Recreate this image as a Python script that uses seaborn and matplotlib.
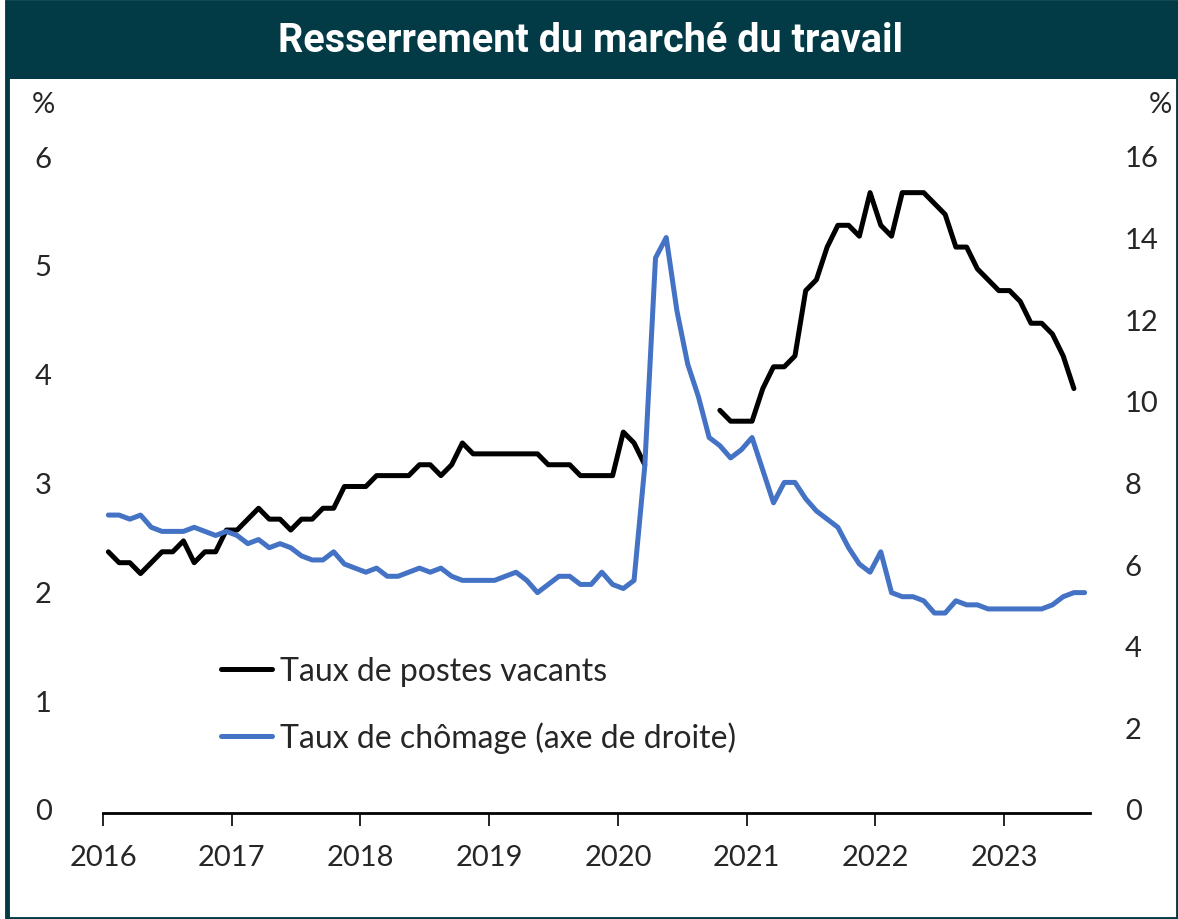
import numpy as np
import pandas as pd
import seaborn as sns
import matplotlib.pyplot as plt
import matplotlib.transforms as mtransforms
from matplotlib.patches import Rectangle
from matplotlib.lines import Line2D

# Données mensuelles, janv. 2016 à août 2023
annees = ['2016', '2017', '2018', '2019', '2020', '2021', '2022', '2023']

vacants = [2.4, 2.3, 2.3, 2.2, 2.3, 2.4, 2.4, 2.5, 2.3, 2.4, 2.4, 2.6,
           2.6, 2.7, 2.8, 2.7, 2.7, 2.6, 2.7, 2.7, 2.8, 2.8, 3.0, 3.0,
           3.0, 3.1, 3.1, 3.1, 3.1, 3.2, 3.2, 3.1, 3.2, 3.4, 3.3, 3.3,
           3.3, 3.3, 3.3, 3.3, 3.3, 3.2, 3.2, 3.2, 3.1, 3.1, 3.1, 3.1,
           3.5, 3.4, 3.2, np.nan, np.nan, np.nan, np.nan, np.nan, np.nan, 3.7, 3.6, 3.6,
           3.6, 3.9, 4.1, 4.1, 4.2, 4.8, 4.9, 5.2, 5.4, 5.4, 5.3, 5.7,
           5.4, 5.3, 5.7, 5.7, 5.7, 5.6, 5.5, 5.2, 5.2, 5.0, 4.9, 4.8,
           4.8, 4.7, 4.5, 4.5, 4.4, 4.2, 3.9, np.nan]

chomage = [7.3, 7.3, 7.2, 7.3, 7.0, 6.9, 6.9, 6.9, 7.0, 6.9, 6.8, 6.9,
           6.8, 6.6, 6.7, 6.5, 6.6, 6.5, 6.3, 6.2, 6.2, 6.4, 6.1, 6.0,
           5.9, 6.0, 5.8, 5.8, 5.9, 6.0, 5.9, 6.0, 5.8, 5.7, 5.7, 5.7,
           5.7, 5.8, 5.9, 5.7, 5.4, 5.6, 5.8, 5.8, 5.6, 5.6, 5.9, 5.6,
           5.5, 5.7, 8.5, 13.6, 14.1, 12.3, 11.0, 10.2, 9.2, 9.0, 8.7, 8.9,
           9.2, 8.4, 7.6, 8.1, 8.1, 7.7, 7.4, 7.2, 7.0, 6.5, 6.1, 5.9,
           6.4, 5.4, 5.3, 5.3, 5.2, 4.9, 4.9, 5.2, 5.1, 5.1, 5.0, 5.0,
           5.0, 5.0, 5.0, 5.0, 5.1, 5.3, 5.4, 5.4]

teal = '#023a46'
bleu = '#4472c4'

df = pd.DataFrame({'vacants': vacants, 'chomage': chomage})
df['pos'] = np.arange(len(df)) + 0.5
# segments séparés pour garder le trou de 2020
df['seg'] = df['vacants'].isna().cumsum()
vac = df.dropna(subset=['vacants'])

sns.set_style('white')
plt.rcParams['font.family'] = ['Lato', 'DejaVu Sans']

fig = plt.figure(figsize=(11.78, 9.2), dpi=100)
W, H = 1178, 920

# cadre et bandeau du titre
fig.patches.append(Rectangle((7 / W, 0), 1 - 7 / W, 1 - 3 / H, transform=fig.transFigure,
                             fill=False, edgecolor=teal, lw=3.5, zorder=0))
fig.patches.append(Rectangle((7 / W, 1 - 80 / H), 1 - 7 / W, 77 / H, transform=fig.transFigure,
                             facecolor=teal, edgecolor='none', zorder=0))
fig.text(0.5 + 1 / W, 1 - 41 / H, 'Resserrement du marché du travail', color='white',
         fontsize=28.5, fontweight='bold', family='Roboto', ha='center', va='center')

ax = fig.add_axes([103 / W, 1 - 814 / H, (1090 - 103) / W, (814 - 161) / H])
ax2 = ax.twinx()

sns.lineplot(data=vac, x='pos', y='vacants', units='seg', estimator=None,
             color='black', lw=3.6, ax=ax)
sns.lineplot(data=df, x='pos', y='chomage', color=bleu, lw=3.6, ax=ax2)

ax.set_xlim(0, 92)
ax.set_ylim(0, 6)
ax2.set_ylim(0, 16)
ax.set_xticks(np.arange(0, 96, 12)[:len(annees)])
ax.set_xticklabels(annees)
ax.set_yticks(range(0, 7))
ax2.set_yticks(range(0, 17, 2))
ax.set_xlabel('')
ax.set_ylabel('')
ax2.set_ylabel('')

for s in ['top', 'left', 'right']:
    ax.spines[s].set_visible(False)
for s in ax2.spines.values():
    s.set_visible(False)
ax.spines['bottom'].set_color('black')
ax.spines['bottom'].set_linewidth(2)

ax.tick_params(axis='x', direction='out', length=9, width=1.2, color='black',
               labelsize=21, pad=13, bottom=True)
ax.tick_params(axis='y', length=0, labelsize=21, pad=37)
ax2.tick_params(axis='y', length=0, labelsize=21, pad=25)
decal = mtransforms.ScaledTranslation(0, 4 / 100, fig.dpi_scale_trans)
for lab in ax.get_yticklabels() + ax2.get_yticklabels():
    lab.set_transform(lab.get_transform() + decal)

fig.text(43 / W, 1 - 105 / H, '%', fontsize=21, ha='center', va='center')
fig.text(1160 / W, 1 - 105 / H, '%', fontsize=21, ha='center', va='center')

handles = [Line2D([], [], color='black', lw=3.6), Line2D([], [], color=bleu, lw=3.6)]
ax.legend(handles, ['Taux de postes vacants', 'Taux de chômage (axe de droite)'],
          loc='upper left', bbox_to_anchor=(221 / W, 1 - 657 / H),
          bbox_transform=fig.transFigure, frameon=False, fontsize=23,
          handlelength=1.6, handletextpad=0.25, labelspacing=1.1,
          borderpad=0, borderaxespad=0)

fig.savefig('out.png', dpi=100)
